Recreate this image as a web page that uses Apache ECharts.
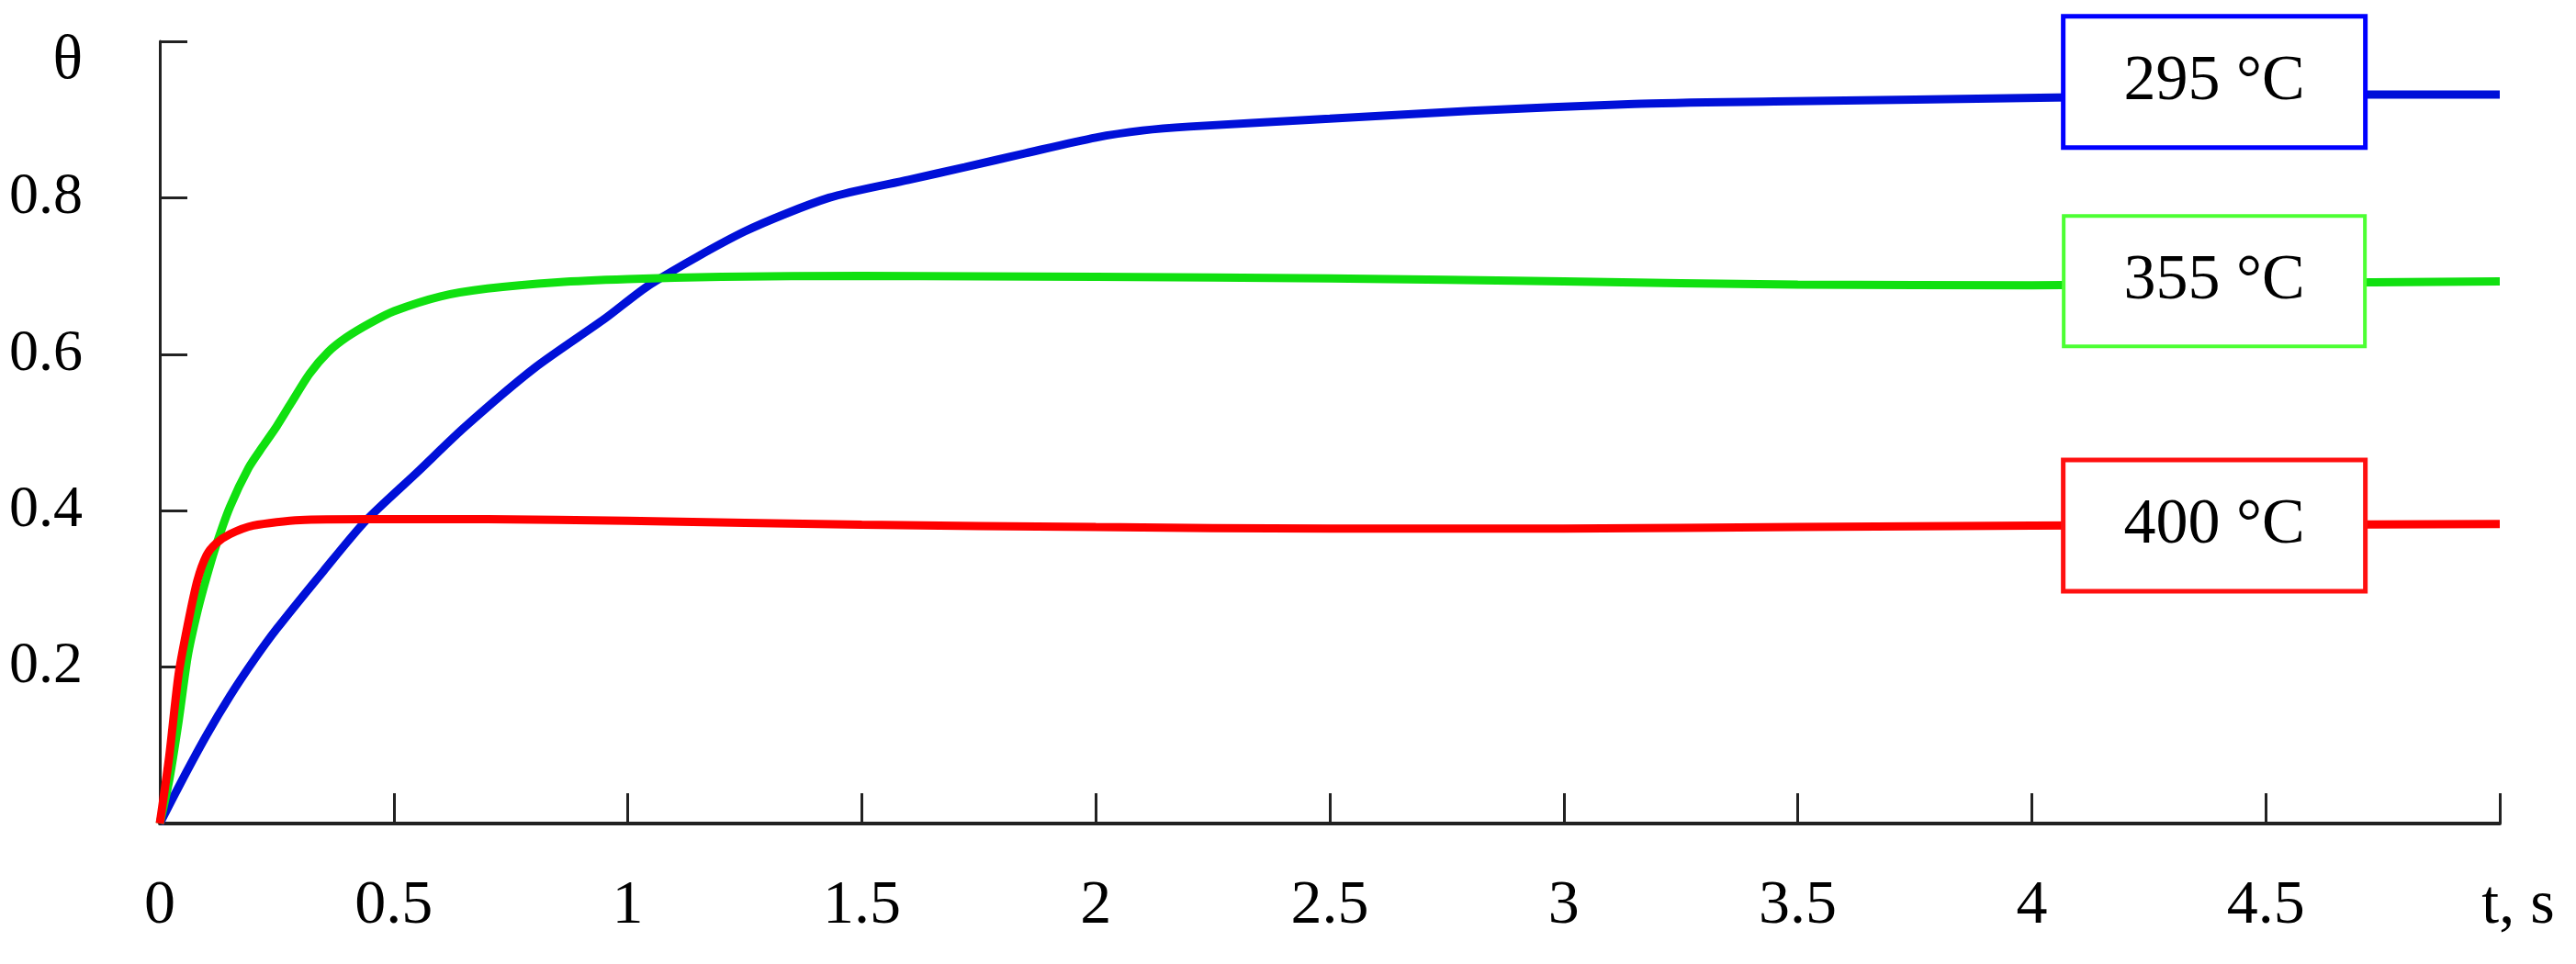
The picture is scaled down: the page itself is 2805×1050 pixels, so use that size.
<!DOCTYPE html>
<html>
<head>
<meta charset="utf-8">
<script src="https://cdn.jsdelivr.net/npm/echarts@6/dist/echarts.min.js"></script>
<style>
    html, body { margin: 0; padding: 0; background: #fff; }
    #chart { width: 2805px; height: 1050px; }
</style>
</head>
<body>
<div id="chart"></div>
<script>
// 295 °C
const tBlue = [0, 0.05, 0.1, 0.15, 0.2, 0.25, 0.35, 0.44, 0.55, 0.65, 0.8, 0.95, 1.05, 1.25, 1.43, 1.6, 1.72, 1.85, 2.0, 2.1, 2.2, 2.5, 2.8, 3.15, 3.45, 4.05, 4.7, 5.0]
const thetaBlue = [0, 0.058, 0.113, 0.163, 0.208, 0.249, 0.323, 0.387, 0.449, 0.506, 0.582, 0.645, 0.69, 0.757, 0.8, 0.823, 0.839, 0.857, 0.877, 0.886, 0.891, 0.901, 0.911, 0.92, 0.923, 0.928, 0.932, 0.932]

// 355 °C
const tGreen = [0, 0.02, 0.04, 0.06, 0.08, 0.1, 0.12, 0.15, 0.19, 0.22, 0.25, 0.28, 0.32, 0.36, 0.4, 0.45, 0.5, 0.6, 0.7, 0.85, 1.0, 1.2, 1.5, 2.0, 2.5, 3.0, 3.5, 4.0, 4.5, 5.0]
const thetaGreen = [0, 0.055, 0.13, 0.215, 0.27, 0.315, 0.355, 0.405, 0.455, 0.482, 0.508, 0.537, 0.575, 0.603, 0.622, 0.64, 0.655, 0.674, 0.684, 0.692, 0.696, 0.699, 0.7, 0.699, 0.697, 0.693, 0.689, 0.688, 0.691, 0.693]

// 400 °C
const tRed = [0, 0.02, 0.04, 0.06, 0.08, 0.1, 0.12, 0.15, 0.2, 0.3, 0.45, 0.7, 1.0, 1.5, 2.0, 2.5, 3.0, 3.5, 4.0, 4.5, 5.0]
const thetaRed = [0, 0.085, 0.19, 0.255, 0.31, 0.343, 0.358, 0.37, 0.381, 0.388, 0.389, 0.389, 0.387, 0.382, 0.379, 0.377, 0.377, 0.379, 0.381, 0.382, 0.383]

// label boxes: text, position in data units
const boxNames = ['295 °C', '355 °C', '400 °C']
const boxT = [4.39, 4.39, 4.39]
const boxTheta = [0.948, 0.6935, 0.381]

const serif = '"Liberation Serif", "Times New Roman", serif'

const pairs = (xs, ys) => xs.map((x, i) => [x, ys[i]])

// white box with coloured frame, drawn as the label of an invisible marker
const boxMark = (i, border, bw) => ({
    symbol: 'circle',
    symbolSize: 1,
    silent: true,
    animation: false,
    itemStyle: { color: 'rgba(0,0,0,0)' },
    label: {
        show: true,
        position: 'inside',
        color: '#000',
        fontFamily: serif,
        fontSize: 70,
        width: 324,
        height: 138,
        lineHeight: 138,
        align: 'center',
        verticalAlign: 'middle',
        padding: 0,
        backgroundColor: '#fff',
        borderColor: border,
        borderWidth: bw,
        formatter: boxNames[i]
    },
    data: [{ coord: [boxT[i], boxTheta[i]] }]
})

const lineSeries = (name, data, color, mark) => ({
    name: name,
    type: 'line',
    data: data,
    smooth: 0.25,
    showSymbol: false,
    lineStyle: { color: color, width: 9 },
    markPoint: mark
})

const myChart = echarts.init(document.getElementById('chart'))

let option = {
    animation: false,
    backgroundColor: '#fff',
    grid: {
        left: 174,
        right: 83,
        top: 45,
        bottom: 153
    },
    xAxis: {
        type: 'value',
        min: 0,
        max: 5,
        interval: 0.5,
        axisLine: { lineStyle: { color: '#222', width: 4 } },
        axisTick: { inside: true, length: 33, lineStyle: { color: '#222', width: 3 } },
        splitLine: { show: false },
        axisLabel: {
            margin: 56,
            color: '#000',
            fontFamily: serif,
            fontSize: 68,
            formatter: (v) => v === 5 ? '{u|t, s}' : String(v),
            rich: { u: { fontFamily: serif, fontSize: 68, color: '#000', padding: [0, 0, 0, 40] } }
        }
    },
    yAxis: {
        type: 'value',
        min: 0,
        max: 1,
        interval: 0.2,
        axisLine: { show: true, lineStyle: { color: '#222', width: 3 } },
        axisTick: { show: true, inside: true, length: 30, lineStyle: { color: '#222', width: 3 } },
        splitLine: { show: false },
        axisLabel: {
            margin: 84,
            color: '#000',
            fontFamily: serif,
            fontSize: 64,
            formatter: (v) => {
                if (v === 0) return ''
                if (v === 1) return '{th|θ}'
                return v.toFixed(1)
            },
            rich: { th: { fontFamily: serif, fontSize: 68, color: '#000', padding: [44, 0, 0, 0] } }
        }
    },
    series: [
        lineSeries('295 °C', pairs(tBlue, thetaBlue), '#0010d8', boxMark(0, '#0000ff', 5)),
        lineSeries('355 °C', pairs(tGreen, thetaGreen), '#10e010', boxMark(1, '#4cff33', 4)),
        lineSeries('400 °C', pairs(tRed, thetaRed), '#ff0000', boxMark(2, '#ff1010', 5))
    ]
}

myChart.setOption(option)
</script>
</body>
</html>
